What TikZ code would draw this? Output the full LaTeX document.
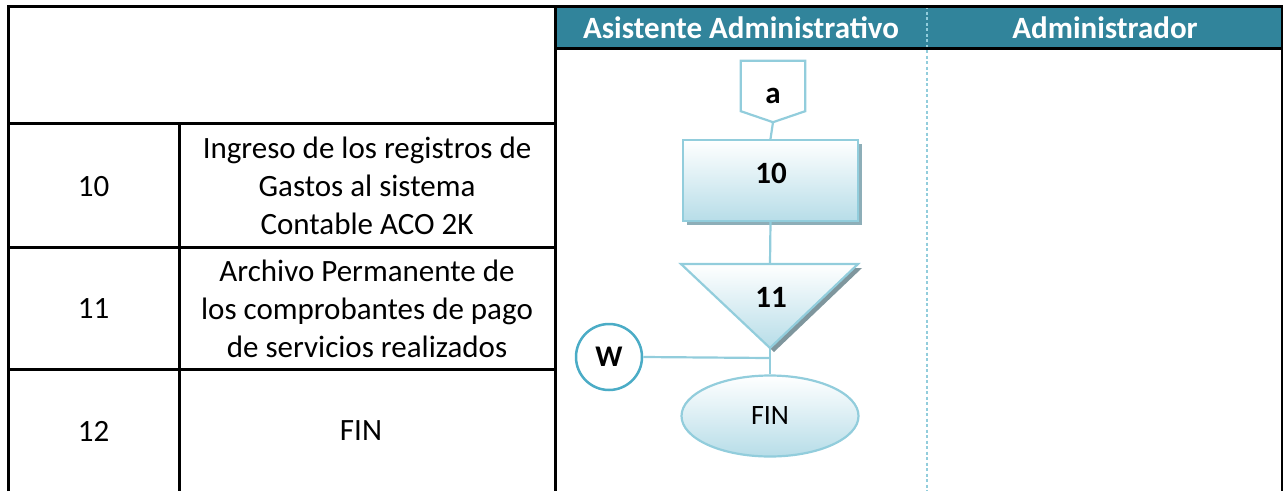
\documentclass[tikz,border=0pt]{standalone}
\usepackage{fontspec}
\setmainfont{Carlito}
\usetikzlibrary{shapes.geometric,shadows}
\definecolor{hdr}{HTML}{31849B}
\definecolor{lb}{HTML}{92CDDC}
\definecolor{lbfill}{HTML}{B7DDE8}
\definecolor{shd}{HTML}{8DAEB8}
\definecolor{shdark}{HTML}{7F969D}
\definecolor{circ}{HTML}{4BACC6}
\tikzset{
  tbl/.style={line width=3pt, black},
  hdrtext/.style={text=white, font=\fontsize{31}{37}\selectfont\bfseries, inner sep=0pt},
  cell/.style={align=center, font=\fontsize{31}{37.8}\selectfont, inner sep=0pt},
  lbl/.style={font=\fontsize{31}{37}\selectfont\bfseries, inner sep=0pt},
  conn/.style={lb, line width=2.2pt},
  proc/.style={draw=lb, line width=2.2pt, top color=white, bottom color=lbfill,
    minimum width=175pt, minimum height=81pt, inner sep=0pt,
    drop shadow={shadow xshift=4pt, shadow yshift=-4pt, fill=shd, opacity=1}},
  term/.style={ellipse, draw=lb, line width=2.2pt, top color=white, bottom color=lbfill,
    minimum width=177pt, minimum height=81pt, inner sep=0pt,
    font=\fontsize{28}{34}\selectfont},
  conncirc/.style={circle, draw=circ, line width=2.5pt, fill=white, minimum size=66pt, inner sep=0pt},
  offpage/.style={minimum width=64pt, minimum height=61pt, inner sep=0pt}
}
\begin{document}
\begin{tikzpicture}[x=1pt,y=-1pt]
\useasboundingbox (0,0) rectangle (1283,491);
% lane header
\fill[hdr] (555,6) rectangle (1282,48);
\node[hdrtext] (h1) at (741,28) {Asistente Administrativo};
\node[hdrtext] (h2) at (1105,28) {Administrador};
% lane divider
\draw[lb, line width=1.3pt, dash pattern=on 3pt off 2.5pt] (927,6) -- (927,491);
% table lines
\draw[tbl] (8,491) -- (8,6) -- (1282,6) -- (1282,491);
\draw[tbl] (555,6) -- (555,491);
\draw[tbl] (555,48) -- (1282,48);
\draw[tbl] (8,123) -- (555,123);
\draw[tbl] (8,247) -- (555,247);
\draw[tbl] (8,369) -- (555,369);
\draw[tbl] (179,123) -- (179,491);
% table texts
\node[cell] (n10) at (93.5,187) {10};
\node[cell] (d10) at (367,186) {Ingreso de los registros de\\Gastos al sistema\\Contable ACO 2K};
\node[cell] (n11) at (93.5,309) {11};
\node[cell] (d11) at (367,309) {Archivo Permanente de\\los comprobantes de pago\\de servicios realizados};
\node[cell] (n12) at (93.5,431) {12};
\node[cell] (d12) at (361,431) {FIN};
% off-page connector a
\node[offpage] (a) at (773,91.5) {};
\draw[lb, line width=2.2pt, fill=white, line join=miter]
  (a.north west) -- (a.north east) -- ([yshift=11pt]a.south east) -- (a.south)
  -- ([yshift=11pt]a.south west) -- cycle;
\node[lbl] (alab) at (773,96) {a};
% process 10
\node[proc] (p10) at (770.5,180.5) {};
\node[lbl] (l10) at (771,173) {10};
% archive triangle 11
\coordinate (t11top) at (770,264);
\coordinate (t11tip) at (770,348);
\fill[shdark] (685,268) -- (862,268) -- (774,352) -- cycle;
\shade[top color=white, bottom color=lbfill, draw=lb, line width=2.2pt, line join=miter]
  (681,264) -- (858,264) -- (t11tip) -- cycle;
\node[lbl] (l11) at (771,297) {11};
% FIN terminator
\node[term] (fin) at (770,416) {FIN};
% connector W
\node[conncirc, font=\fontsize{30}{34}\selectfont\bfseries] (w) at (609,357) {W};
\coordinate (j) at (769,358);
% connectors
\draw[conn] (a.south) -- (p10.north);
\draw[conn] (p10.south) -- (t11top);
\draw[conn] (t11tip) -- (fin.north);
\draw[conn] (w.east) -- (j);
\end{tikzpicture}
\end{document}
